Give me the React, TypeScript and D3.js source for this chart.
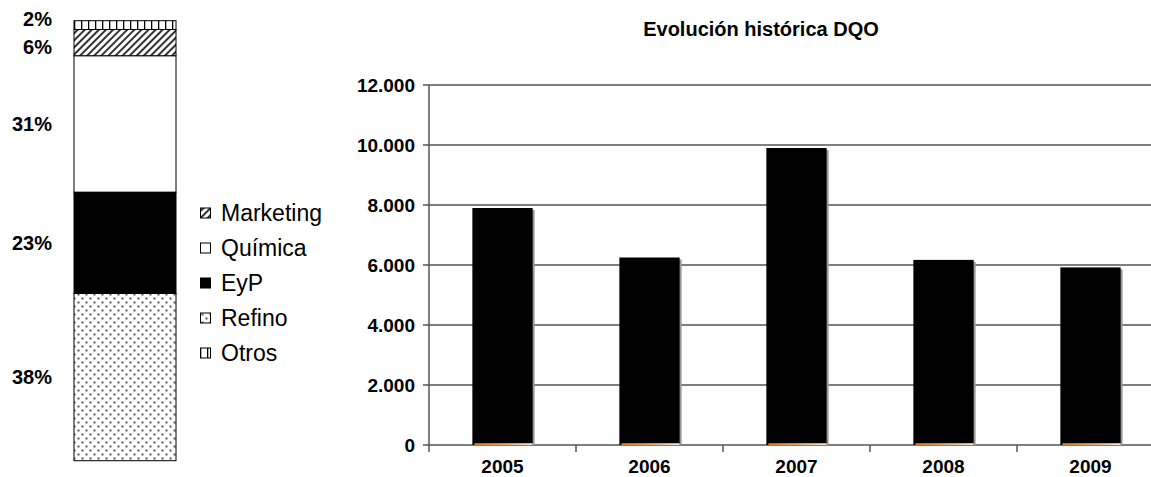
import React from 'react';
import * as d3 from 'd3';

// left stacked bar: top to bottom
const segments = ['Otros', 'Marketing', 'Química', 'EyP', 'Refino'];
const shares = [2, 6, 31, 23, 38];
const legendOrder = ['Marketing', 'Química', 'EyP', 'Refino', 'Otros'];

// right bar chart
const years = ['2005', '2006', '2007', '2008', '2009'];
const dqo = [7900, 6250, 9900, 6170, 5920];
const minor = [60, 60, 60, 60, 60];
const yTicks = [0, 2000, 4000, 6000, 8000, 10000, 12000];

const fills: Record<string, string> = {
  Otros: 'url(#pOtros)',
  Marketing: 'url(#pMkt)',
  'Química': '#ffffff',
  EyP: '#000000',
  Refino: 'url(#pRefino)',
};

const locale = d3.formatLocale({ decimal: ',', thousands: '.', grouping: [3], currency: ['', ''] });
const fmt = locale.format(',d');

export default function App() {
  const W = 1151;
  const H = 477;
  const font = '"Liberation Sans", Arial, sans-serif';
  const narrow = '"Liberation Sans Narrow", "Arial Narrow", "Liberation Sans", sans-serif';

  // stacked bar geometry
  const sy = d3.scaleLinear().domain([0, 100]).range([20.7, 460.7]);
  const cum = [0, ...Array.from(d3.cumsum(shares))];
  const barX = 74;
  const barW = 102;

  // label positions: segment centres, pushed apart when too close
  const centers = shares.map((_, i) => (sy(cum[i]) + sy(cum[i + 1])) / 2);
  const labelY = centers.slice();
  const minGap = 28;
  for (let i = 1; i < labelY.length; i++) {
    if (labelY[i] - labelY[i - 1] < minGap) {
      const mid = (labelY[i] + labelY[i - 1]) / 2;
      labelY[i - 1] = mid - minGap / 2 - 1;
      labelY[i] = mid + minGap / 2 - 1;
    }
  }

  // right chart scales
  const x = d3.scaleBand().domain(years).range([429, 1164]).paddingInner(0.59).paddingOuter(0.295);
  const y = d3.scaleLinear().domain([0, 12000]).range([445, 85]);
  const x0 = 429;
  const step = x.step();

  return (
    <svg width={W} height={H} style={{ position: 'absolute', left: 0, top: 0, background: '#fff' }}>
      <defs>
        <pattern id="pOtros" width="7" height="10" patternUnits="userSpaceOnUse" x={barX}>
          <rect width="7" height="10" fill="#fff" />
          <rect x="0" width="1.3" height="10" fill="#000" />
        </pattern>
        <pattern id="pMkt" width="5" height="5" patternUnits="userSpaceOnUse" patternTransform="rotate(45)">
          <rect width="5" height="5" fill="#fff" />
          <rect x="0" width="2" height="5" fill="#333" />
        </pattern>
        <pattern id="pRefino" width="8" height="8" patternUnits="userSpaceOnUse">
          <rect width="8" height="8" fill="#fff" />
          <rect x="1.5" y="1.5" width="2" height="2" fill="#555" />
          <rect x="5.5" y="5.5" width="2" height="2" fill="#555" />
        </pattern>
        <linearGradient id="gOrange" x1="0" x2="1" y1="0" y2="0">
          <stop offset="0" stopColor="#e07a1f" />
          <stop offset="0.5" stopColor="#eaa56a" />
          <stop offset="1" stopColor="#f8e6d8" />
        </linearGradient>
      </defs>

      {/* stacked bar */}
      {segments.map((s, i) => (
        <rect
          key={s}
          x={barX}
          y={sy(cum[i])}
          width={barW}
          height={sy(cum[i + 1]) - sy(cum[i])}
          fill={fills[s]}
          stroke="#000"
          strokeWidth={1}
        />
      ))}
      {shares.map((v, i) => (
        <text
          key={i}
          x={52}
          y={labelY[i]}
          dy="0.35em"
          textAnchor="end"
          fontFamily={font}
          fontWeight="bold"
          fontSize={20}
          fill="#000"
        >
          {v}%
        </text>
      ))}

      {/* legend */}
      {legendOrder.map((s, i) => {
        const cy = 213 + i * 35;
        return (
          <g key={s}>
            <rect x={200.5} y={cy - 5} width={10} height={10} fill={fills[s]} stroke="#000" strokeWidth={1} />
            <text x={221} y={cy} dy="0.36em" fontFamily={font} fontSize={23} fill="#000">
              {s}
            </text>
          </g>
        );
      })}

      {/* right chart */}
      <text x={761} y={36} textAnchor="middle" fontFamily={font} fontWeight="bold" fontSize={20} fill="#000">
        Evolución histórica DQO
      </text>
      {yTicks.map((t) => (
        <g key={t}>
          <line x1={x0} x2={W} y1={y(t)} y2={y(t)} stroke="#555" strokeWidth={1.5} />
          <line x1={x0 - 6} x2={x0} y1={y(t)} y2={y(t)} stroke="#555" strokeWidth={1.5} />
          <text
            x={415}
            y={y(t)}
            dy="0.36em"
            textAnchor="end"
            fontFamily={narrow}
            fontWeight="bold"
            fontSize={19}
            fill="#000"
          >
            {fmt(t)}
          </text>
        </g>
      ))}
      <line x1={x0} x2={x0} y1={y(12000)} y2={y(0)} stroke="#555" strokeWidth={1.5} />
      {years.map((_, i) => (
        <line key={i} x1={x0 + i * step} x2={x0 + i * step} y1={y(0)} y2={y(0) + 7} stroke="#555" strokeWidth={1.5} />
      ))}

      {years.map((yr, i) => {
        const bx = x(yr) as number;
        const bw = x.bandwidth();
        return (
          <g key={yr}>
            <rect x={bx + 2} y={y(dqo[i]) + 2} width={bw} height={y(0) - y(dqo[i]) - 2} fill="#999" />
            <rect x={bx} y={y(dqo[i])} width={bw} height={y(0) - y(dqo[i])} fill="#000" />
            <rect x={bx + 2} y={y(minor[i])} width={bw - 2} height={y(0) - y(minor[i])} fill="url(#gOrange)" />
            <text
              x={bx + bw / 2}
              y={473}
              textAnchor="middle"
              fontFamily={narrow}
              fontWeight="bold"
              fontSize={19}
              fill="#000"
            >
              {yr}
            </text>
          </g>
        );
      })}
    </svg>
  );
}
